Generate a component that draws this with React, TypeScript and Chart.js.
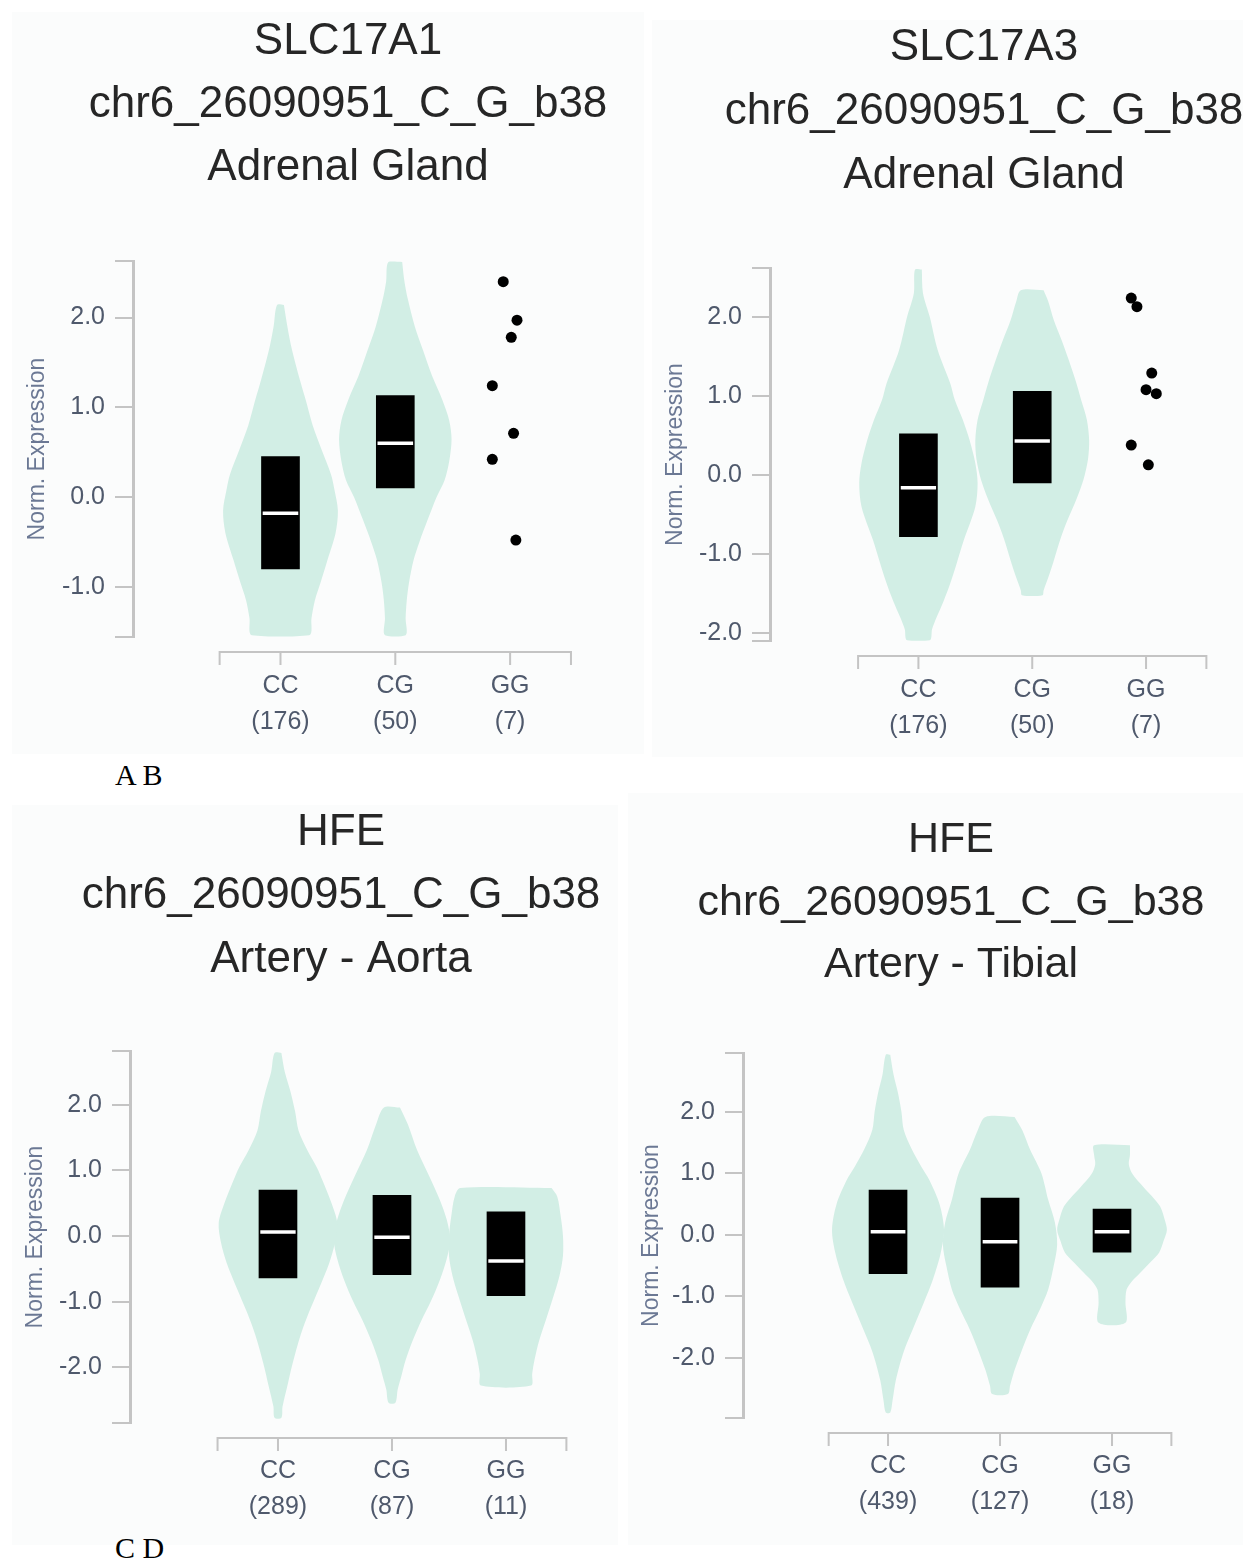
import React, { useEffect, useRef } from 'react';
import { Chart, registerables } from 'chart.js';

Chart.register(...registerables);

// ---------- shared ----------
const GENOTYPES = ['CC', 'CG', 'GG'];
const Y_AXIS_TITLE = 'Norm. Expression';

// ---------- Panel A : SLC17A1 / Adrenal Gland ----------
const A_TITLE = ['SLC17A1', 'chr6_26090951_C_G_b38', 'Adrenal Gland'];
const A_COUNTS = [176, 50, 7];
const A_CC_VY = [2.14, 1.9, 1.64, 1.3, 1.08, 0.8, 0.52, 0.25, 0.08, -0.15, -0.4, -0.7, -0.95, -1.15, -1.35, -1.54];
const A_CC_VW = [0.03, 0.06, 0.1, 0.17, 0.22, 0.28, 0.36, 0.44, 0.47, 0.5, 0.48, 0.41, 0.35, 0.3, 0.27, 0.25];
const A_CG_VY = [2.62, 2.4, 2.2, 1.9, 1.64, 1.35, 1.08, 0.85, 0.64, 0.4, 0.19, 0.0, -0.26, -0.5, -0.7, -0.95, -1.15, -1.35, -1.54];
const A_CG_VW = [0.06, 0.08, 0.11, 0.17, 0.24, 0.32, 0.41, 0.47, 0.49, 0.47, 0.43, 0.36, 0.28, 0.21, 0.16, 0.12, 0.1, 0.09, 0.09];
const A_Q1 = [-0.8, 0.1];
const A_MED = [-0.18, 0.6];
const A_Q3 = [0.45, 1.13];
const A_GG_Y = [2.4, 1.97, 1.78, 1.24, 0.71, 0.42, -0.48];
const A_GG_DX = [-0.06, 0.06, 0.01, -0.155, 0.03, -0.155, 0.05];

// ---------- Panel B : SLC17A3 / Adrenal Gland ----------
const B_TITLE = ['SLC17A3', 'chr6_26090951_C_G_b38', 'Adrenal Gland'];
const B_COUNTS = [176, 50, 7];
const B_CC_VY = [2.6, 2.3, 2.0, 1.58, 1.16, 0.95, 0.7, 0.44, 0.15, -0.1, -0.4, -0.82, -1.1, -1.37, -1.6, -1.8, -1.95, -2.09];
const B_CC_VW = [0.03, 0.04, 0.1, 0.17, 0.28, 0.32, 0.39, 0.45, 0.5, 0.52, 0.5, 0.4, 0.34, 0.28, 0.22, 0.16, 0.12, 0.1];
const B_CG_VY = [2.34, 2.2, 1.96, 1.7, 1.46, 1.2, 0.95, 0.7, 0.44, 0.2, -0.06, -0.3, -0.57, -0.8, -1.08, -1.3, -1.46, -1.52];
const B_CG_VW = [0.1, 0.14, 0.19, 0.26, 0.32, 0.38, 0.43, 0.48, 0.5, 0.49, 0.45, 0.39, 0.31, 0.25, 0.19, 0.14, 0.1, 0.09];
const B_Q1 = [-0.78, -0.1];
const B_MED = [-0.16, 0.43];
const B_Q3 = [0.52, 1.06];
const B_GG_Y = [2.24, 2.13, 1.29, 1.08, 1.03, 0.38, 0.13];
const B_GG_DX = [-0.13, -0.08, 0.05, 0.0, 0.09, -0.13, 0.02];

// ---------- Panel C : HFE / Artery - Aorta ----------
const C_TITLE = ['HFE', 'chr6_26090951_C_G_b38', 'Artery - Aorta'];
const C_COUNTS = [289, 87, 11];
const C_CC_VY = [2.79, 2.5, 2.2, 1.9, 1.61, 1.3, 1.05, 0.85, 0.5, 0.2, -0.1, -0.41, -0.8, -1.17, -1.5, -1.93, -2.3, -2.6, -2.77];
const C_CC_VW = [0.03, 0.06, 0.11, 0.15, 0.18, 0.26, 0.34, 0.39, 0.47, 0.52, 0.5, 0.45, 0.36, 0.27, 0.2, 0.13, 0.08, 0.04, 0.03];
const C_CG_VY = [1.96, 1.7, 1.31, 0.9, 0.55, 0.25, -0.06, -0.35, -0.67, -1.0, -1.28, -1.6, -1.89, -2.15, -2.34, -2.54];
const C_CG_VW = [0.07, 0.14, 0.22, 0.33, 0.42, 0.48, 0.51, 0.48, 0.42, 0.34, 0.26, 0.18, 0.12, 0.08, 0.05, 0.03];
const C_GG_VY = [0.73, 0.6, 0.3, 0.0, -0.3, -0.6, -0.9, -1.28, -1.6, -1.89, -2.1, -2.28];
const C_GG_VW = [0.4, 0.45, 0.48, 0.5, 0.5, 0.47, 0.42, 0.35, 0.29, 0.25, 0.23, 0.22];
const C_Q1 = [-0.64, -0.59, -0.91];
const C_MED = [0.06, -0.02, -0.38];
const C_Q3 = [0.7, 0.62, 0.37];

// ---------- Panel D : HFE / Artery - Tibial ----------
const D_TITLE = ['HFE', 'chr6_26090951_C_G_b38', 'Artery - Tibial'];
const D_COUNTS = [439, 127, 18];
const D_CC_VY = [2.93, 2.6, 2.3, 2.0, 1.71, 1.4, 1.1, 0.89, 0.5, 0.08, -0.3, -0.73, -1.1, -1.54, -1.9, -2.36, -2.7, -2.89];
const D_CC_VW = [0.02, 0.05, 0.09, 0.12, 0.14, 0.21, 0.3, 0.37, 0.46, 0.5, 0.47, 0.4, 0.32, 0.22, 0.14, 0.07, 0.04, 0.02];
const D_CG_VY = [1.92, 1.7, 1.38, 1.0, 0.57, 0.2, -0.16, -0.5, -0.89, -1.2, -1.54, -1.9, -2.2, -2.45, -2.59];
const D_CG_VW = [0.13, 0.2, 0.27, 0.37, 0.43, 0.49, 0.51, 0.48, 0.43, 0.36, 0.27, 0.19, 0.13, 0.09, 0.07];
const D_GG_VY = [1.46, 1.3, 1.15, 1.0, 0.78, 0.6, 0.46, 0.25, 0.08, -0.1, -0.29, -0.45, -0.62, -0.75, -0.89, -1.1, -1.43];
const D_GG_VW = [0.16, 0.16, 0.15, 0.18, 0.28, 0.37, 0.43, 0.47, 0.49, 0.46, 0.42, 0.34, 0.25, 0.18, 0.13, 0.12, 0.12];
const D_Q1 = [-0.63, -0.85, -0.28];
const D_MED = [0.05, -0.11, 0.05];
const D_Q3 = [0.73, 0.6, 0.42];

// ---------- styling ----------
const FONT = "'Liberation Sans', Arial, Helvetica, sans-serif";
const VIOLIN_COLOR = '#d2eee5';
const AXIS_COLOR = '#c4c4c4';
const TICK_TEXT = '#4f596c';
const YTITLE_TEXT = '#6b7894';
const TITLE_TEXT = '#262626';
const PANEL_BG = '#fbfcfc';

type Violin = { vy: number[]; vw: number[] };
type PanelCfg = {
  title: string[];
  counts: number[];
  violins: (Violin | null)[];
  q1: number[];
  med: number[];
  q3: number[];
  ggY: number[] | null;
  ggDx: number[] | null;
  yMin: number;
  yMax: number;
  yTicks: number[];
  xMin: number;
  xMax: number;
  // layout
  left: number;
  top: number;
  width: number;
  height: number;
  yW: number;
  titleSize: number;
  titleLH: number;
  titlePadBottom: number;
  xPad: number;
};

const PANELS: PanelCfg[] = [
  {
    title: A_TITLE, counts: A_COUNTS,
    violins: [{ vy: A_CC_VY, vw: A_CC_VW }, { vy: A_CG_VY, vw: A_CG_VW }, null],
    q1: A_Q1, med: A_MED, q3: A_Q3, ggY: A_GG_Y, ggDx: A_GG_DX,
    yMin: -1.56, yMax: 2.63, yTicks: [-1, 0, 1, 2], xMin: -1.2845, xMax: 3.362,
    left: 24, top: 10, width: 648, height: 727, yW: 109, titleSize: 44, titleLH: 63, titlePadBottom: 62, xPad: 31,
  },
  {
    title: B_TITLE, counts: B_COUNTS,
    violins: [{ vy: B_CC_VY, vw: B_CC_VW }, { vy: B_CG_VY, vw: B_CG_VW }, null],
    q1: B_Q1, med: B_MED, q3: B_Q3, ggY: B_GG_Y, ggDx: B_GG_DX,
    yMin: -2.1, yMax: 2.62, yTicks: [-2, -1, 0, 1, 2], xMin: -1.304, xMax: 3.357,
    left: 662, top: 16, width: 644, height: 725, yW: 108, titleSize: 44, titleLH: 64, titlePadBottom: 60, xPad: 31,
  },
  {
    title: C_TITLE, counts: C_COUNTS,
    violins: [{ vy: C_CC_VY, vw: C_CC_VW }, { vy: C_CG_VY, vw: C_CG_VW }, { vy: C_GG_VY, vw: C_GG_VW }],
    q1: C_Q1, med: C_MED, q3: C_Q3, ggY: null, ggDx: null,
    yMin: -2.85, yMax: 2.82, yTicks: [-2, -1, 0, 1, 2], xMin: -1.298, xMax: 3.351,
    left: 22, top: 801, width: 638, height: 722, yW: 108, titleSize: 44, titleLH: 63.5, titlePadBottom: 59.5, xPad: 30,
  },
  {
    title: D_TITLE, counts: D_COUNTS,
    violins: [{ vy: D_CC_VY, vw: D_CC_VW }, { vy: D_CG_VY, vw: D_CG_VW }, { vy: D_GG_VY, vw: D_GG_VW }],
    q1: D_Q1, med: D_MED, q3: D_Q3, ggY: null, ggDx: null,
    yMin: -2.98, yMax: 2.96, yTicks: [-2, -1, 0, 1, 2], xMin: -1.295, xMax: 3.357,
    left: 638, top: 809, width: 626, height: 709, yW: 105, titleSize: 43, titleLH: 62.5, titlePadBottom: 56.5, xPad: 30,
  },
];

const BACKGROUNDS = [
  { left: 12, top: 12, width: 632, height: 742 },
  { left: 652, top: 20, width: 591, height: 737 },
  { left: 12, top: 805, width: 606, height: 740 },
  { left: 628, top: 793, width: 615, height: 752 },
];

function violinPolygon(center: number, v: Violin) {
  const right = v.vy.map((y, k) => ({ x: center + v.vw[k], y }));
  const left = v.vy.map((y, k) => ({ x: center - v.vw[k], y })).reverse();
  return [...right, ...left, right[0]];
}

const xAxisPlugin = {
  id: 'detachedXAxis',
  afterDraw(chart: any) {
    const { ctx, chartArea, scales } = chart;
    const x = scales.x;
    const y0 = chartArea.bottom + 15;
    const cap = 13;
    const x0 = x.getPixelForValue(-0.53);
    const x1 = x.getPixelForValue(2.53);
    ctx.save();
    ctx.strokeStyle = AXIS_COLOR;
    ctx.lineWidth = 2;
    ctx.beginPath();
    ctx.moveTo(x0, y0 + cap);
    ctx.lineTo(x0, y0);
    ctx.lineTo(x1, y0);
    ctx.lineTo(x1, y0 + cap);
    x.ticks.forEach((t: any) => {
      const px = x.getPixelForValue(t.value);
      ctx.moveTo(px, y0);
      ctx.lineTo(px, y0 + cap);
    });
    ctx.stroke();
    ctx.restore();
  },
};

function buildConfig(p: PanelCfg): any {
  const datasets: any[] = [];

  if (p.ggY && p.ggDx) {
    datasets.push({
      type: 'scatter',
      data: p.ggY.map((y, k) => ({ x: 2 + (p.ggDx as number[])[k], y })),
      backgroundColor: '#000',
      borderWidth: 0,
      pointRadius: 5.5,
      order: 0,
    });
  }

  p.med.forEach((m, i) => {
    datasets.push({
      type: 'line',
      data: [{ x: i - 0.155, y: m }, { x: i + 0.155, y: m }],
      borderColor: '#ffffff',
      borderWidth: 3.5,
      pointRadius: 0,
      fill: false,
      order: 1,
    });
  });

  datasets.push({
    type: 'bar',
    data: p.q1.map((q, i) => ({ x: i, y: [q, p.q3[i]] })),
    backgroundColor: '#000',
    borderWidth: 0,
    barThickness: 38,
    order: 2,
  });

  p.violins.forEach((v, i) => {
    if (!v) return;
    datasets.push({
      type: 'line',
      data: violinPolygon(i, v),
      fill: 'shape',
      backgroundColor: VIOLIN_COLOR,
      borderColor: 'rgba(0,0,0,0)',
      borderWidth: 0,
      pointRadius: 0,
      tension: 0.3,
      order: 3,
    });
  });

  return {
    type: 'line',
    data: { datasets },
    plugins: [xAxisPlugin],
    options: {
      animation: false,
      responsive: false,
      maintainAspectRatio: false,
      events: [],
      layout: { padding: 0 },
      plugins: {
        legend: { display: false },
        tooltip: { enabled: false },
        title: {
          display: true,
          text: p.title,
          color: TITLE_TEXT,
          font: { family: FONT, size: p.titleSize, weight: 'normal', lineHeight: p.titleLH / p.titleSize },
          padding: { top: 0, bottom: p.titlePadBottom },
        },
      },
      scales: {
        x: {
          type: 'linear',
          position: 'bottom',
          min: p.xMin,
          max: p.xMax,
          offset: false,
          grid: { display: false, drawTicks: false },
          border: { display: false },
          afterBuildTicks: (s: any) => {
            s.ticks = GENOTYPES.map((_, i) => ({ value: i }));
          },
          afterFit: (s: any) => {
            s.height = 100;
          },
          ticks: {
            autoSkip: false,
            maxRotation: 0,
            minRotation: 0,
            padding: p.xPad,
            color: TICK_TEXT,
            font: { family: FONT, size: 25, lineHeight: 1.44 },
            callback: (v: any) => {
              const i = Math.round(Number(v));
              return [GENOTYPES[i], `(${p.counts[i]})`];
            },
          },
        },
        y: {
          type: 'linear',
          position: 'left',
          min: p.yMin,
          max: p.yMax,
          afterBuildTicks: (s: any) => {
            s.ticks = [p.yMin, ...p.yTicks, p.yMax].map((value) => ({ value }));
          },
          afterFit: (s: any) => {
            s.width = p.yW;
          },
          grid: {
            drawOnChartArea: false,
            drawTicks: true,
            tickLength: 18,
            color: AXIS_COLOR,
            lineWidth: 2,
          },
          border: { display: true, color: AXIS_COLOR, width: 3 },
          ticks: {
            padding: 10,
            color: TICK_TEXT,
            font: { family: FONT, size: 25 },
            callback: (v: any) => (p.yTicks.includes(Number(v)) ? Number(v).toFixed(1) : ''),
          },
          title: {
            display: true,
            text: Y_AXIS_TITLE,
            color: YTITLE_TEXT,
            font: { family: FONT, size: 23, lineHeight: 1.2 },
            padding: { top: 0, bottom: 0 },
          },
        },
      },
    },
  };
}

function Panel({ p }: { p: PanelCfg }) {
  const ref = useRef<HTMLCanvasElement | null>(null);
  useEffect(() => {
    if (!ref.current) return;
    const chart = new Chart(ref.current, buildConfig(p));
    return () => chart.destroy();
  }, [p]);
  return (
    <canvas
      ref={ref}
      width={p.width}
      height={p.height}
      style={{ position: 'absolute', left: p.left, top: p.top, width: p.width, height: p.height }}
    />
  );
}

const labelStyle: React.CSSProperties = {
  position: 'absolute',
  left: 115,
  fontFamily: "'Liberation Serif', 'Times New Roman', serif",
  fontSize: 30,
  lineHeight: '30px',
  color: '#000',
  whiteSpace: 'pre',
};

export default function App() {
  return (
    <div
      style={{
        position: 'absolute',
        left: 0,
        top: 0,
        width: 1243,
        height: 1562,
        overflow: 'hidden',
        background: '#ffffff',
      }}
    >
      {BACKGROUNDS.map((b, i) => (
        <div key={i} style={{ position: 'absolute', ...b, background: PANEL_BG }} />
      ))}
      {PANELS.map((p, i) => (
        <Panel key={i} p={p} />
      ))}
      <div style={{ ...labelStyle, top: 760 }}>A B</div>
      <div style={{ ...labelStyle, top: 1533 }}>C D</div>
    </div>
  );
}
